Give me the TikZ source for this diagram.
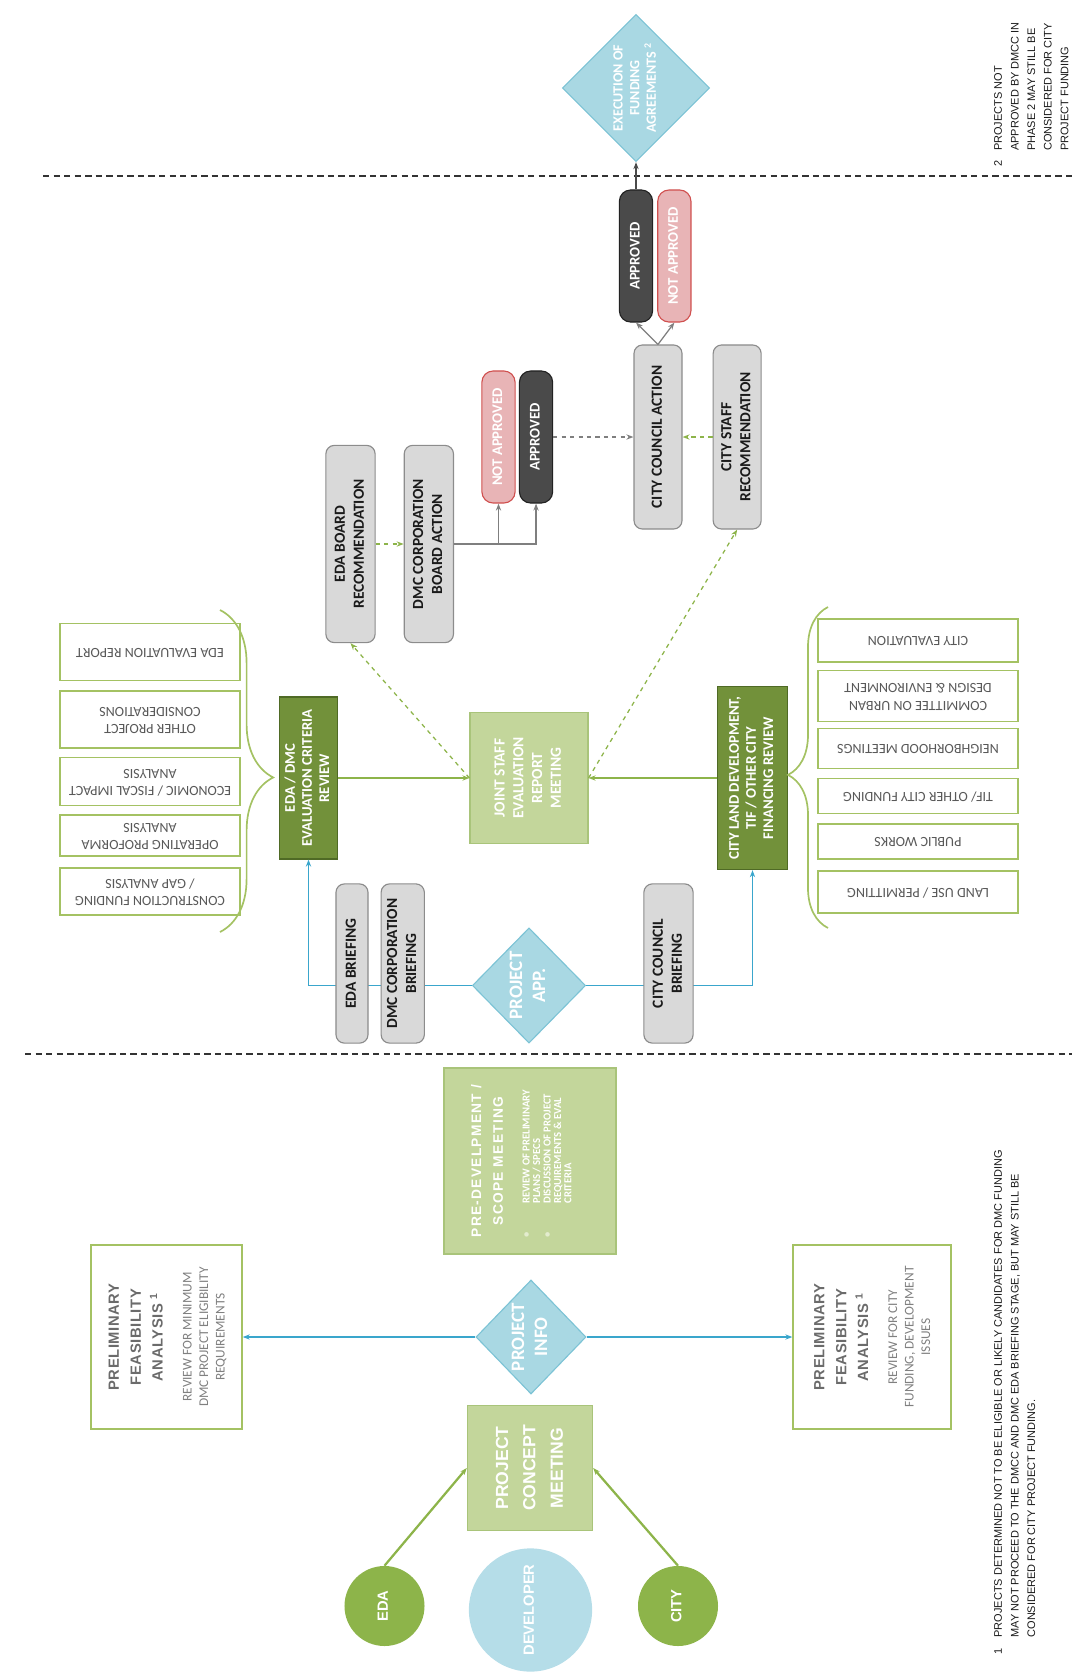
\documentclass[tikz,border=0pt]{standalone}
\usepackage{fontspec}
\setmainfont{Carlito}
\newfontfamily\arialfont{Liberation Sans}
\usepackage{graphicx}
\usetikzlibrary{shapes.geometric, arrows.meta, positioning,
                decorations.pathreplacing}
\definecolor{cGrayFill}{HTML}{D9D9D9}
\definecolor{cGrayLine}{HTML}{8C8C8C}
\definecolor{cInk}{HTML}{1A1A1A}
\definecolor{cDarkFill}{HTML}{4A4A4A}
\definecolor{cDarkLine}{HTML}{222222}
\definecolor{cPinkFill}{HTML}{E8B4B6}
\definecolor{cPinkLine}{HTML}{D0504F}
\definecolor{cOlive}{HTML}{72913A}
\definecolor{cOliveLine}{HTML}{4F6A25}
\definecolor{cMeet}{HTML}{C3D69B}
\definecolor{cMeetLine}{HTML}{A9C47A}
\definecolor{cDot}{HTML}{E3ECCE}
\definecolor{cList}{HTML}{A4C263}
\definecolor{cLeaf}{HTML}{8DB44A}
\definecolor{cBlueFill}{HTML}{A9D8E3}
\definecolor{cBlueLine}{HTML}{7CC3D5}
\definecolor{cBlue}{HTML}{3AA6CC}
\definecolor{cDev}{HTML}{B5DDE8}
\definecolor{cText}{HTML}{595959}
\definecolor{cTitle}{HTML}{6B6B6B}
\definecolor{cDesc}{HTML}{808080}
\definecolor{cArrow}{HTML}{7F7F7F}
\definecolor{cSep}{HTML}{333333}
\newcommand{\cstack}[2][c]{\begin{tabular}[#1]{@{}c@{}}#2\end{tabular}}
\newcommand{\vtxt}[1]{\rotatebox{90}{\cstack{#1}}}
\newcommand{\ftxt}[1]{\rotatebox{180}{\cstack{#1}}}
\newcommand{\infotitle}{\arialfont\bfseries\fontsize{10.5}{15.6}\selectfont
  \addfontfeature{LetterSpace=4}\color{cTitle}}
\newcommand{\infodesc}{\fontsize{9.5}{11.7}\selectfont\color{cDesc}}
\newcommand{\headfont}{\arialfont\bfseries\fontsize{9.8}{15.5}\selectfont
  \addfontfeature{LetterSpace=9}}
\newcommand{\itemfont}{\bfseries\fontsize{7.6}{7.4}\selectfont}
\tikzset{
  sz/.style 2 args={minimum width=#1, minimum height=#2},
  graybox/.style={
    rectangle, rounded corners=6pt, draw=cGrayLine, fill=cGrayFill,
    line width=0.8pt, inner sep=0pt, text=cInk,
    font=\bfseries\fontsize{11}{13.5}\selectfont
  },
  pill/.style={
    rectangle, rounded corners=8pt, line width=0.8pt, inner sep=0pt,
    text=white, font=\bfseries\fontsize{10.5}{13}\selectfont,
    minimum width=0.83cm, minimum height=3.3cm
  },
  okpill/.style={pill, draw=cDarkLine, fill=cDarkFill},
  nopill/.style={pill, draw=cPinkLine, fill=cPinkFill},
  evalbox/.style={
    rectangle, draw=cOliveLine, fill=cOlive, line width=0.8pt,
    inner sep=0pt, text=white, font=\bfseries\fontsize{10.5}{12.2}\selectfont
  },
  meetbox/.style={
    rectangle, draw=cMeetLine, fill=cMeet, line width=0.8pt,
    inner sep=0pt, text=white, font=\bfseries\fontsize{11}{13.3}\selectfont
  },
  listbox/.style={
    rectangle, draw=cList, fill=white, line width=0.9pt,
    inner sep=0pt, text=cText, font=\fontsize{10}{12.5}\selectfont
  },
  lbox/.style={listbox, minimum width=4.5cm},
  rbox/.style={listbox, minimum width=5cm},
  infobox/.style={rectangle, draw=cList, fill=white, line width=0.9pt, inner sep=0pt},
  query/.style={
    diamond, aspect=1, draw=cBlueLine, fill=cBlueFill, line width=0.8pt,
    inner sep=-2pt, text=white, font=\bfseries\fontsize{13.5}{16.5}\selectfont
  },
  party/.style={circle, inner sep=0pt, text=white,
    font=\arialfont\bfseries\fontsize{10.5}{12}\selectfont},
  note/.style={inner sep=0pt, text=cInk, font=\arialfont\fontsize{7.8}{11.8}\selectfont},
  arrow/.style={-{Stealth[length=5pt]}, line width=0.9pt, #1},
  arrow/.default=cArrow,
  dasharrow/.style={-{Stealth[length=5pt]}, line width=0.9pt, dashed, #1},
  dasharrow/.default=cLeaf,
  curly/.style 2 args={decorate, decoration={brace, amplitude=#1, aspect=#2},
    draw=cList, line width=1.2pt},
  sepline/.style={draw=cSep, line width=0.8pt, dash pattern=on 4.5pt off 3pt},
}

\begin{document}
\begin{tikzpicture}[x=0.025cm, y=-0.025cm]
  \useasboundingbox (0,0) rectangle (1078,1672);

  % Phase separators
  \coordinate (sepTopL) at (43,176);
  \coordinate (sepTopR) at (1072,176);
  \coordinate (sepBotL) at (25,1054);
  \coordinate (sepBotR) at (1072,1054);
  \draw[sepline] (sepTopL) -- (sepTopR);
  \draw[sepline] (sepBotL) -- (sepBotR);

  % Funding agreements and note 2
  \node[query, sz={3.68cm}{3.68cm}, font=\bfseries\fontsize{10}{11.8}\selectfont]
    (exec) at (636,88) {\vtxt{EXECUTION OF\\FUNDING\\AGREEMENTS \textsuperscript{2}}};
  \node[note, anchor=south west] (noteTwo) at (990,167) {\rotatebox{90}{%
    \begin{tabular}{@{}l@{\hspace{7pt}}l@{}}
      2 & PROJECTS NOT\\ & APPROVED BY DMCC IN\\ & PHASE 2 MAY STILL BE\\
        & CONSIDERED FOR CITY\\ & PROJECT FUNDING
    \end{tabular}}};

  % City council action
  \node[okpill] (apprTop) at (636,256) {\vtxt{APPROVED}};
  \node[nopill, right=0.1cm of apprTop] (napprTop) {\vtxt{NOT APPROVED}};
  \node[graybox, sz={1.2cm}{4.6cm}] (ccAction) at (658,437) {\vtxt{CITY COUNCIL ACTION}};
  \node[graybox, sz={1.2cm}{4.6cm}, right=0.75cm of ccAction] (cStaff)
    {\vtxt{CITY STAFF\\RECOMMENDATION}};

  % Board action
  \node[nopill] (napprLow) at (498.5,437) {\vtxt{NOT APPROVED}};
  \node[okpill, right=0.08cm of napprLow] (apprLow) {\vtxt{APPROVED}};
  \node[graybox, sz={1.23cm}{4.93cm}] (edaBoard) at (350.5,544)
    {\vtxt{EDA BOARD\\RECOMMENDATION}};
  \node[graybox, sz={1.23cm}{4.93cm}, right=0.7cm of edaBoard] (dmcBoard)
    {\vtxt{DMC CORPORATION\\BOARD ACTION}};

  % Evaluation reviews
  \node[evalbox, sz={1.43cm}{4.05cm}] (edaEval) at (308.5,778)
    {\vtxt{EDA / DMC\\EVALUATION CRITERIA\\REVIEW}};
  \node[meetbox, sz={2.95cm}{3.28cm}] (joint) at (529,778)
    {\vtxt{JOINT STAFF\\EVALUATION\\REPORT\\MEETING}};
  \node[evalbox, sz={1.73cm}{4.58cm}] (cityLand) at (752.5,778)
    {\vtxt{CITY LAND DEVELOPMENT,\\TIF / OTHER CITY\\FINANCING REVIEW}};

  % EDA / DMC criteria
  \node[lbox, minimum height=1.42cm] (lReport) at (150,652) {\ftxt{EDA EVALUATION REPORT}};
  \node[lbox, minimum height=1.42cm] (lOther) at (150,719.5) {\ftxt{OTHER PROJECT\\CONSIDERATIONS}};
  \node[lbox, minimum height=1.2cm] (lFiscal) at (150,781.5) {\ftxt{ECONOMIC / FISCAL IMPACT\\ANALYSIS}};
  \node[lbox, minimum height=1.03cm] (lProforma) at (150,835.5) {\ftxt{OPERATING PROFORMA\\ANALYSIS}};
  \node[lbox, minimum height=1.18cm] (lGap) at (150,891.5) {\ftxt{CONSTRUCTION FUNDING\\/ GAP ANALYSIS}};
  \coordinate (lBraceTop) at (220,610);
  \coordinate (lBraceBot) at (220,932);
  \draw[curly={1.33cm}{0.52}] (lBraceTop) -- (lBraceBot);

  % City criteria
  \node[rbox, minimum height=1.07cm] (rEval) at (918,640.5) {\ftxt{CITY EVALUATION}};
  \node[rbox, minimum height=1.28cm] (rUrban) at (918,696) {\ftxt{COMMITTEE ON URBAN\\DESIGN \& ENVIRONMENT}};
  \node[rbox, minimum height=1cm] (rHood) at (918,748.5) {\ftxt{NEIGHBORHOOD MEETINGS}};
  \node[rbox, minimum height=0.88cm] (rTif) at (918,796) {\ftxt{TIF/ OTHER CITY FUNDING}};
  \node[rbox, minimum height=0.88cm] (rWorks) at (918,841.5) {\ftxt{PUBLIC WORKS}};
  \node[rbox, minimum height=1.05cm] (rLand) at (918,892) {\ftxt{LAND USE / PERMITTING}};
  \coordinate (rBraceBot) at (828,928);
  \coordinate (rBraceTop) at (828,607);
  \draw[curly={1cm}{0.477}] (rBraceBot) -- (rBraceTop);

  % Review arrows
  \draw[arrow=cLeaf] (edaEval) -- (joint);
  \draw[arrow=cLeaf] (cityLand) -- (joint);
  \draw[dasharrow] (joint.west) -- (edaBoard.south);
  \draw[dasharrow] (joint.east) -- (cStaff.south);

  % Action arrows
  \draw[dasharrow] (edaBoard) -- (dmcBoard);
  \draw[arrow] (dmcBoard.east) -| (apprLow.south);
  \draw[arrow] (dmcBoard.east -| napprLow.south) -- (napprLow.south);
  \draw[dasharrow=cArrow] (apprLow) -- (ccAction);
  \draw[dasharrow] (cStaff) -- (ccAction);
  \draw[arrow] (ccAction.north) -- (apprTop.south);
  \draw[arrow] (ccAction.north) -- (napprTop.south);
  \draw[arrow=cDarkFill] (apprTop.north) -- (exec.south);

  % Project application and briefings
  \node[query, sz={2.83cm}{2.88cm}] (projApp) at (529,985.5) {\vtxt{PROJECT\\APP.}};
  \draw[arrow=cBlue] (projApp.west) -| (edaEval.south);
  \draw[arrow=cBlue] (projApp.east) -| (cityLand.south);
  \node[graybox, sz={0.8cm}{3.98cm}] (edaBrief) at (352,963.5) {\vtxt{EDA BRIEFING}};
  \node[graybox, sz={1.08cm}{3.98cm}, right=0.3cm of edaBrief] (dmcBrief)
    {\vtxt{DMC CORPORATION\\BRIEFING}};
  \node[graybox, sz={1.23cm}{3.98cm}] (ccBrief) at (668.5,963.5) {\vtxt{CITY COUNCIL\\BRIEFING}};

  % Pre-development meeting
  \node[meetbox, sz={4.3cm}{4.65cm}, font=\fontsize{9.5}{15.5}\selectfont] (preDev)
    at (530,1161) {\rotatebox{90}{\begin{tabular}{@{}l@{}}
      {\headfont\cstack[b]{PRE-DEVELPMENT /\\SCOPE MEETING}}\\[3.5pt]
      {\itemfont\begin{tabular}[t]{@{}l@{\hspace{20pt}}l@{}}
        \textcolor{cDot}{\textbullet} & REVIEW OF PRELIMINARY\\
          & PLANS / SPECS\\
        \textcolor{cDot}{\textbullet} & DISCUSSION OF PROJECT\\
          & REQUIREMENTS \& EVAL\\
          & CRITERIA\\[14pt]
      \end{tabular}}
    \end{tabular}}};

  % Project info and feasibility
  \node[query, sz={2.75cm}{2.85cm}] (projInfo) at (531,1337) {\vtxt{PROJECT\\INFO}};
  \node[infobox, sz={3.78cm}{4.6cm}, font=\fontsize{10.5}{15.6}\selectfont] (prelimL)
    at (166.5,1337) {\rotatebox{90}{\cstack{%
      {\infotitle\cstack[b]{PRELIMINARY\\FEASIBILITY\\ANALYSIS \textsuperscript{1}}}\\[5pt]
      {\infodesc\cstack[t]{REVIEW FOR MINIMUM\\DMC PROJECT ELIGIBILITY\\REQUIREMENTS}}}}};
  \node[infobox, sz={3.95cm}{4.6cm}, font=\fontsize{10.5}{15.6}\selectfont] (prelimR)
    at (872,1337) {\rotatebox{90}{\cstack{%
      {\infotitle\cstack[b]{PRELIMINARY\\FEASIBILITY\\ANALYSIS \textsuperscript{1}}}\\[5pt]
      {\infodesc\cstack[t]{REVIEW FOR CITY\\FUNDING, DEVELOPMENT\\ISSUES}}}}};
  \draw[arrow=cBlue] (projInfo) -- (prelimL);
  \draw[arrow=cBlue] (projInfo) -- (prelimR);

  % Concept meeting and parties
  \node[meetbox, sz={3.13cm}{3.13cm}, font=\arialfont\bfseries\fontsize{12.5}{19.5}\selectfont]
    (concept) at (530,1468) {\vtxt{PROJECT\\CONCEPT\\MEETING}};
  \node[party, fill=cLeaf, minimum size=2cm] (eda) at (384.5,1606) {\vtxt{EDA}};
  \node[party, fill=cDev, minimum size=3.08cm] (dev) at (530.5,1610) {\vtxt{DEVELOPER}};
  \node[party, fill=cLeaf, minimum size=2cm] (city) at (678,1606) {\vtxt{CITY}};
  \draw[arrow=cLeaf, line width=1.6pt] (eda.north) -- (concept.west);
  \draw[arrow=cLeaf, line width=1.6pt] (city.north) -- (concept.east);

  % Note 1
  \node[note, anchor=south west] (noteOne) at (990,1655) {\rotatebox{90}{%
    \begin{tabular}{@{}l@{\hspace{8pt}}l@{}}
      1 & PROJECTS DETERMINED NOT TO BE ELIGIBLE OR LIKELY CANDIDATES FOR DMC FUNDING\\
        & MAY NOT PROCEED TO THE DMCC AND DMC EDA BRIEFING STAGE, BUT MAY STILL BE\\
        & CONSIDERED FOR CITY PROJECT FUNDING.
    \end{tabular}}};

\end{tikzpicture}
\end{document}
